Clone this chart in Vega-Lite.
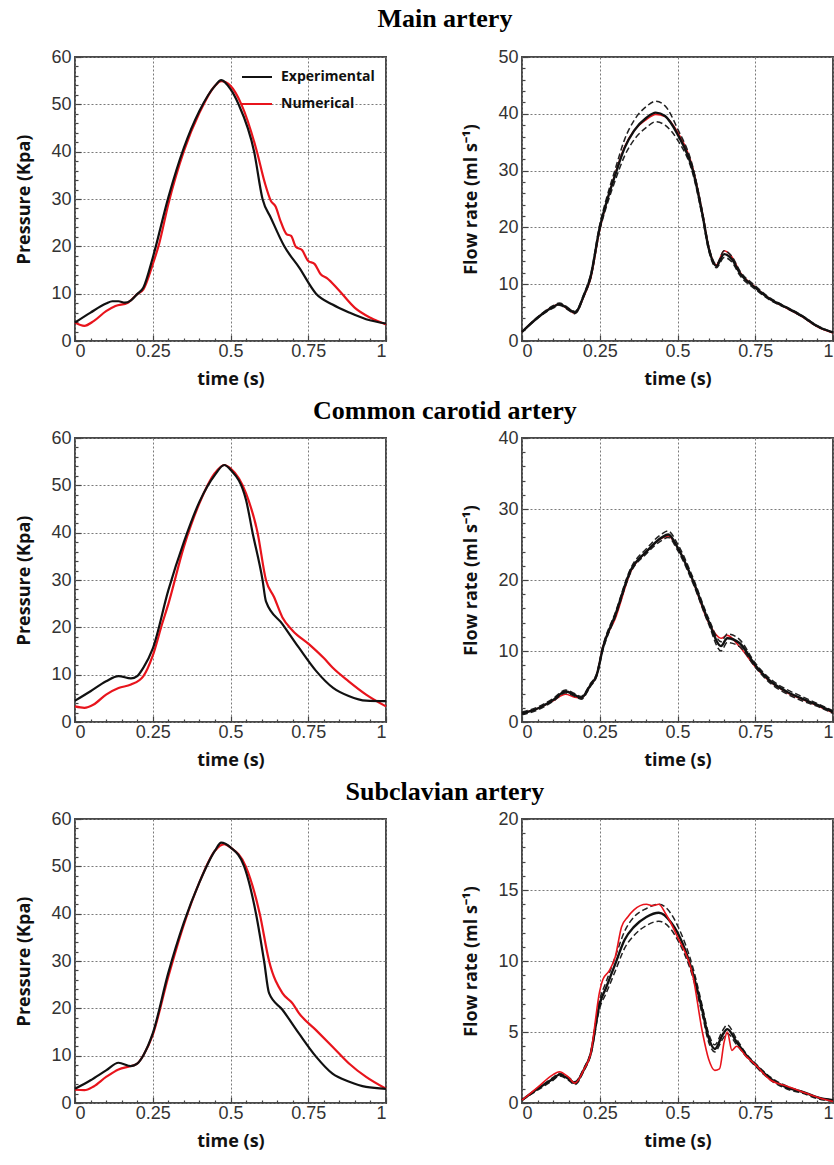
{
"$schema": "https://vega.github.io/schema/vega-lite/v6.json",
"padding": {"left": 14, "top": 6, "right": 0, "bottom": 0},
"spacing": 9,
"config": {
  "view": {"stroke": "#4a4a4a", "strokeWidth": 2},
  "axis": {"labelFont": "Liberation Sans", "labelFontSize": 18, "labelColor": "#333", "titleFont": "Open Sans", "titleFontWeight": "bold", "titleFontSize": 18, "titleColor": "#111", "gridDash": [2, 2], "gridColor": "#7a7a7a", "gridWidth": 1, "domain": false, "tickColor": "#444", "tickWidth": 1.2, "labelOverlap": false},
  "axisX": {"labelPadding": 7, "titlePadding": 7},
  "axisY": {"labelPadding": 10, "titlePadding": 17},
  "title": {"font": "Liberation Serif", "fontSize": 26, "fontWeight": "bold", "color": "#000", "anchor": "middle", "offset": 15, "dx": 18},
  "line": {"strokeWidth": 2, "interpolate": "monotone"}
},
"datasets": {
"mp": [
{"s":"Numerical","t":0,"v":3.9},{"s":"Numerical","t":0.03,"v":3.2},{"s":"Numerical","t":0.06,"v":4.2},{"s":"Numerical","t":0.1,"v":6.3},{"s":"Numerical","t":0.13,"v":7.4},{"s":"Numerical","t":0.17,"v":8.1},{"s":"Numerical","t":0.2,"v":9.9},{"s":"Numerical","t":0.22,"v":10.9},{"s":"Numerical","t":0.25,"v":16.2},{"s":"Numerical","t":0.27,"v":20.4},{"s":"Numerical","t":0.3,"v":28.9},{"s":"Numerical","t":0.35,"v":40.1},{"s":"Numerical","t":0.4,"v":48.2},{"s":"Numerical","t":0.45,"v":53.9},{"s":"Numerical","t":0.47,"v":54.9},{"s":"Numerical","t":0.5,"v":53.9},{"s":"Numerical","t":0.535,"v":50},{"s":"Numerical","t":0.585,"v":40},{"s":"Numerical","t":0.61,"v":33.5},{"s":"Numerical","t":0.63,"v":29.6},{"s":"Numerical","t":0.645,"v":28.4},{"s":"Numerical","t":0.66,"v":25.5},{"s":"Numerical","t":0.68,"v":22.6},{"s":"Numerical","t":0.695,"v":22.2},{"s":"Numerical","t":0.71,"v":19.9},{"s":"Numerical","t":0.73,"v":19.2},{"s":"Numerical","t":0.75,"v":16.9},{"s":"Numerical","t":0.77,"v":16.3},{"s":"Numerical","t":0.79,"v":14.1},{"s":"Numerical","t":0.81,"v":13.3},{"s":"Numerical","t":0.85,"v":10.6},{"s":"Numerical","t":0.9,"v":7.0},{"s":"Numerical","t":0.95,"v":4.9},{"s":"Numerical","t":1,"v":3.5},
{"s":"Experimental","t":0,"v":3.9},{"s":"Experimental","t":0.05,"v":6.0},{"s":"Experimental","t":0.1,"v":7.9},{"s":"Experimental","t":0.12,"v":8.4},{"s":"Experimental","t":0.14,"v":8.4},{"s":"Experimental","t":0.16,"v":8.1},{"s":"Experimental","t":0.18,"v":8.6},{"s":"Experimental","t":0.2,"v":9.9},{"s":"Experimental","t":0.22,"v":11.3},{"s":"Experimental","t":0.25,"v":17.6},{"s":"Experimental","t":0.3,"v":30.3},{"s":"Experimental","t":0.35,"v":40.8},{"s":"Experimental","t":0.4,"v":48.6},{"s":"Experimental","t":0.45,"v":53.9},{"s":"Experimental","t":0.47,"v":55.1},{"s":"Experimental","t":0.5,"v":53.2},{"s":"Experimental","t":0.526,"v":50},{"s":"Experimental","t":0.576,"v":40},{"s":"Experimental","t":0.603,"v":30},{"s":"Experimental","t":0.63,"v":26},{"s":"Experimental","t":0.673,"v":20},{"s":"Experimental","t":0.721,"v":15.5},{"s":"Experimental","t":0.775,"v":10},{"s":"Experimental","t":0.828,"v":7.7},{"s":"Experimental","t":0.882,"v":6.0},{"s":"Experimental","t":0.936,"v":4.6},{"s":"Experimental","t":1,"v":3.7}
],
"cp": [
{"s":"Numerical","t":0,"v":3.3},{"s":"Numerical","t":0.03,"v":3.0},{"s":"Numerical","t":0.06,"v":3.7},{"s":"Numerical","t":0.1,"v":5.8},{"s":"Numerical","t":0.14,"v":7.2},{"s":"Numerical","t":0.18,"v":7.9},{"s":"Numerical","t":0.22,"v":9.7},{"s":"Numerical","t":0.25,"v":14.0},{"s":"Numerical","t":0.28,"v":20.7},{"s":"Numerical","t":0.3,"v":24.9},{"s":"Numerical","t":0.35,"v":37},{"s":"Numerical","t":0.4,"v":46.2},{"s":"Numerical","t":0.45,"v":52.6},{"s":"Numerical","t":0.48,"v":54.3},{"s":"Numerical","t":0.5,"v":53.6},{"s":"Numerical","t":0.55,"v":48.3},{"s":"Numerical","t":0.587,"v":40},{"s":"Numerical","t":0.614,"v":30},{"s":"Numerical","t":0.64,"v":26.4},{"s":"Numerical","t":0.667,"v":22.1},{"s":"Numerical","t":0.7,"v":19.3},{"s":"Numerical","t":0.753,"v":16.4},{"s":"Numerical","t":0.8,"v":13.5},{"s":"Numerical","t":0.828,"v":11.5},{"s":"Numerical","t":0.88,"v":8.6},{"s":"Numerical","t":0.936,"v":5.8},{"s":"Numerical","t":1,"v":3.3},
{"s":"Experimental","t":0,"v":4.5},{"s":"Experimental","t":0.05,"v":6.5},{"s":"Experimental","t":0.1,"v":8.6},{"s":"Experimental","t":0.14,"v":9.7},{"s":"Experimental","t":0.18,"v":9.2},{"s":"Experimental","t":0.2,"v":9.7},{"s":"Experimental","t":0.22,"v":11.5},{"s":"Experimental","t":0.25,"v":15.5},{"s":"Experimental","t":0.3,"v":27.8},{"s":"Experimental","t":0.35,"v":38},{"s":"Experimental","t":0.4,"v":46.5},{"s":"Experimental","t":0.45,"v":52.2},{"s":"Experimental","t":0.48,"v":54.3},{"s":"Experimental","t":0.5,"v":53.3},{"s":"Experimental","t":0.55,"v":46.9},{"s":"Experimental","t":0.571,"v":40},{"s":"Experimental","t":0.603,"v":30},{"s":"Experimental","t":0.614,"v":25.5},{"s":"Experimental","t":0.667,"v":20.7},{"s":"Experimental","t":0.72,"v":15.7},{"s":"Experimental","t":0.775,"v":10.8},{"s":"Experimental","t":0.83,"v":7.2},{"s":"Experimental","t":0.88,"v":5.5},{"s":"Experimental","t":0.936,"v":4.5},{"s":"Experimental","t":1,"v":4.4}
],
"sp": [
{"s":"Numerical","t":0,"v":2.8},{"s":"Numerical","t":0.03,"v":2.7},{"s":"Numerical","t":0.06,"v":3.5},{"s":"Numerical","t":0.1,"v":5.5},{"s":"Numerical","t":0.14,"v":7.1},{"s":"Numerical","t":0.18,"v":7.8},{"s":"Numerical","t":0.2,"v":8.3},{"s":"Numerical","t":0.22,"v":10.1},{"s":"Numerical","t":0.25,"v":14.4},{"s":"Numerical","t":0.3,"v":26.7},{"s":"Numerical","t":0.35,"v":37.7},{"s":"Numerical","t":0.4,"v":46.6},{"s":"Numerical","t":0.45,"v":53.3},{"s":"Numerical","t":0.48,"v":54.7},{"s":"Numerical","t":0.5,"v":54},{"s":"Numerical","t":0.549,"v":50},{"s":"Numerical","t":0.594,"v":40},{"s":"Numerical","t":0.624,"v":30},{"s":"Numerical","t":0.667,"v":23.2},{"s":"Numerical","t":0.7,"v":21},{"s":"Numerical","t":0.72,"v":19.0},{"s":"Numerical","t":0.775,"v":15.4},{"s":"Numerical","t":0.828,"v":11.9},{"s":"Numerical","t":0.882,"v":8.3},{"s":"Numerical","t":0.936,"v":5.5},{"s":"Numerical","t":1,"v":3.0},
{"s":"Experimental","t":0,"v":3.0},{"s":"Experimental","t":0.05,"v":4.8},{"s":"Experimental","t":0.1,"v":6.9},{"s":"Experimental","t":0.14,"v":8.5},{"s":"Experimental","t":0.18,"v":7.8},{"s":"Experimental","t":0.2,"v":8.3},{"s":"Experimental","t":0.22,"v":10.1},{"s":"Experimental","t":0.25,"v":14.7},{"s":"Experimental","t":0.3,"v":27.5},{"s":"Experimental","t":0.35,"v":38.1},{"s":"Experimental","t":0.4,"v":46.6},{"s":"Experimental","t":0.45,"v":53.3},{"s":"Experimental","t":0.47,"v":55},{"s":"Experimental","t":0.5,"v":54},{"s":"Experimental","t":0.544,"v":50},{"s":"Experimental","t":0.582,"v":40},{"s":"Experimental","t":0.608,"v":30},{"s":"Experimental","t":0.624,"v":23.2},{"s":"Experimental","t":0.667,"v":19.7},{"s":"Experimental","t":0.72,"v":14.7},{"s":"Experimental","t":0.775,"v":9.8},{"s":"Experimental","t":0.828,"v":6.2},{"s":"Experimental","t":0.882,"v":4.5},{"s":"Experimental","t":0.936,"v":3.4},{"s":"Experimental","t":1,"v":3.0}
],
"mf": [
{"s":"Mean","t":0,"v":1.6},{"s":"Mean","t":0.05,"v":4.1},{"s":"Mean","t":0.1,"v":6.0},{"s":"Mean","t":0.12,"v":6.5},{"s":"Mean","t":0.15,"v":5.6},{"s":"Mean","t":0.17,"v":5.0},{"s":"Mean","t":0.2,"v":8.2},{"s":"Mean","t":0.22,"v":11.2},{"s":"Mean","t":0.25,"v":20},{"s":"Mean","t":0.27,"v":24.1},{"s":"Mean","t":0.3,"v":29.3},{"s":"Mean","t":0.33,"v":34},{"s":"Mean","t":0.36,"v":37},{"s":"Mean","t":0.4,"v":39.3},{"s":"Mean","t":0.43,"v":40.2},{"s":"Mean","t":0.46,"v":39.6},{"s":"Mean","t":0.5,"v":36.4},{"s":"Mean","t":0.55,"v":29.9},{"s":"Mean","t":0.58,"v":22.3},{"s":"Mean","t":0.6,"v":16.4},{"s":"Mean","t":0.625,"v":13.2},{"s":"Mean","t":0.65,"v":15.3},{"s":"Mean","t":0.675,"v":14.4},{"s":"Mean","t":0.7,"v":12},{"s":"Mean","t":0.75,"v":9.4},{"s":"Mean","t":0.8,"v":7.3},{"s":"Mean","t":0.85,"v":5.9},{"s":"Mean","t":0.9,"v":4.4},{"s":"Mean","t":0.95,"v":2.6},{"s":"Mean","t":1,"v":1.5},
{"s":"Upper","t":0,"v":1.6},{"s":"Upper","t":0.05,"v":4.2},{"s":"Upper","t":0.1,"v":6.2},{"s":"Upper","t":0.12,"v":6.7},{"s":"Upper","t":0.15,"v":5.8},{"s":"Upper","t":0.17,"v":5.2},{"s":"Upper","t":0.2,"v":8.4},{"s":"Upper","t":0.22,"v":11.5},{"s":"Upper","t":0.25,"v":20.5},{"s":"Upper","t":0.27,"v":24.8},{"s":"Upper","t":0.3,"v":30.3},{"s":"Upper","t":0.33,"v":35.5},{"s":"Upper","t":0.36,"v":38.8},{"s":"Upper","t":0.4,"v":41.3},{"s":"Upper","t":0.43,"v":42.2},{"s":"Upper","t":0.46,"v":41.4},{"s":"Upper","t":0.5,"v":37.4},{"s":"Upper","t":0.55,"v":30.5},{"s":"Upper","t":0.58,"v":22.8},{"s":"Upper","t":0.6,"v":16.8},{"s":"Upper","t":0.625,"v":13.5},{"s":"Upper","t":0.65,"v":15.9},{"s":"Upper","t":0.675,"v":14.9},{"s":"Upper","t":0.7,"v":12.4},{"s":"Upper","t":0.75,"v":9.7},{"s":"Upper","t":0.8,"v":7.5},{"s":"Upper","t":0.85,"v":6.0},{"s":"Upper","t":0.9,"v":4.5},{"s":"Upper","t":0.95,"v":2.7},{"s":"Upper","t":1,"v":1.5},
{"s":"Lower","t":0,"v":1.6},{"s":"Lower","t":0.05,"v":4.0},{"s":"Lower","t":0.1,"v":5.8},{"s":"Lower","t":0.12,"v":6.3},{"s":"Lower","t":0.15,"v":5.4},{"s":"Lower","t":0.17,"v":4.8},{"s":"Lower","t":0.2,"v":8.0},{"s":"Lower","t":0.22,"v":10.9},{"s":"Lower","t":0.25,"v":19.5},{"s":"Lower","t":0.27,"v":23.4},{"s":"Lower","t":0.3,"v":28.3},{"s":"Lower","t":0.33,"v":32.6},{"s":"Lower","t":0.36,"v":35.4},{"s":"Lower","t":0.4,"v":37.6},{"s":"Lower","t":0.43,"v":38.6},{"s":"Lower","t":0.46,"v":38.0},{"s":"Lower","t":0.5,"v":35.4},{"s":"Lower","t":0.55,"v":29.3},{"s":"Lower","t":0.58,"v":21.8},{"s":"Lower","t":0.6,"v":16.0},{"s":"Lower","t":0.625,"v":12.9},{"s":"Lower","t":0.65,"v":14.7},{"s":"Lower","t":0.675,"v":13.9},{"s":"Lower","t":0.7,"v":11.6},{"s":"Lower","t":0.75,"v":9.1},{"s":"Lower","t":0.8,"v":7.1},{"s":"Lower","t":0.85,"v":5.8},{"s":"Lower","t":0.9,"v":4.3},{"s":"Lower","t":0.95,"v":2.5},{"s":"Lower","t":1,"v":1.5},
{"s":"Numerical","t":0,"v":1.6},{"s":"Numerical","t":0.05,"v":4.1},{"s":"Numerical","t":0.1,"v":6.1},{"s":"Numerical","t":0.12,"v":6.5},{"s":"Numerical","t":0.15,"v":5.5},{"s":"Numerical","t":0.17,"v":4.9},{"s":"Numerical","t":0.2,"v":8.0},{"s":"Numerical","t":0.22,"v":10.8},{"s":"Numerical","t":0.25,"v":19.6},{"s":"Numerical","t":0.27,"v":24.0},{"s":"Numerical","t":0.3,"v":29.5},{"s":"Numerical","t":0.33,"v":34.2},{"s":"Numerical","t":0.36,"v":37.0},{"s":"Numerical","t":0.4,"v":39.0},{"s":"Numerical","t":0.43,"v":39.9},{"s":"Numerical","t":0.46,"v":39.5},{"s":"Numerical","t":0.5,"v":36.8},{"s":"Numerical","t":0.55,"v":30.3},{"s":"Numerical","t":0.58,"v":22.6},{"s":"Numerical","t":0.6,"v":16.6},{"s":"Numerical","t":0.625,"v":13.4},{"s":"Numerical","t":0.65,"v":15.9},{"s":"Numerical","t":0.675,"v":14.8},{"s":"Numerical","t":0.7,"v":12.2},{"s":"Numerical","t":0.75,"v":9.5},{"s":"Numerical","t":0.8,"v":7.3},{"s":"Numerical","t":0.85,"v":5.8},{"s":"Numerical","t":0.9,"v":4.3},{"s":"Numerical","t":0.95,"v":2.5},{"s":"Numerical","t":1,"v":1.4}
],
"cf": [
{"s":"Mean","t":0,"v":1.2},{"s":"Mean","t":0.05,"v":1.9},{"s":"Mean","t":0.1,"v":3.1},{"s":"Mean","t":0.14,"v":4.3},{"s":"Mean","t":0.17,"v":3.8},{"s":"Mean","t":0.19,"v":3.4},{"s":"Mean","t":0.22,"v":5.2},{"s":"Mean","t":0.24,"v":6.6},{"s":"Mean","t":0.26,"v":10.4},{"s":"Mean","t":0.3,"v":15.1},{"s":"Mean","t":0.35,"v":21.4},{"s":"Mean","t":0.4,"v":24.0},{"s":"Mean","t":0.45,"v":26.0},{"s":"Mean","t":0.47,"v":26.4},{"s":"Mean","t":0.5,"v":24.6},{"s":"Mean","t":0.55,"v":19.9},{"s":"Mean","t":0.6,"v":14.2},{"s":"Mean","t":0.64,"v":10.7},{"s":"Mean","t":0.66,"v":11.8},{"s":"Mean","t":0.7,"v":11.1},{"s":"Mean","t":0.75,"v":8.0},{"s":"Mean","t":0.8,"v":5.7},{"s":"Mean","t":0.85,"v":4.3},{"s":"Mean","t":0.9,"v":3.3},{"s":"Mean","t":0.95,"v":2.4},{"s":"Mean","t":1,"v":1.4},
{"s":"Upper","t":0,"v":1.4},{"s":"Upper","t":0.05,"v":2.1},{"s":"Upper","t":0.1,"v":3.3},{"s":"Upper","t":0.14,"v":4.5},{"s":"Upper","t":0.17,"v":4.0},{"s":"Upper","t":0.19,"v":3.6},{"s":"Upper","t":0.22,"v":5.4},{"s":"Upper","t":0.24,"v":6.8},{"s":"Upper","t":0.26,"v":10.7},{"s":"Upper","t":0.3,"v":15.4},{"s":"Upper","t":0.35,"v":21.7},{"s":"Upper","t":0.4,"v":24.4},{"s":"Upper","t":0.45,"v":26.5},{"s":"Upper","t":0.47,"v":26.9},{"s":"Upper","t":0.5,"v":25.1},{"s":"Upper","t":0.55,"v":20.3},{"s":"Upper","t":0.6,"v":14.6},{"s":"Upper","t":0.64,"v":11.3},{"s":"Upper","t":0.66,"v":12.4},{"s":"Upper","t":0.7,"v":11.6},{"s":"Upper","t":0.75,"v":8.3},{"s":"Upper","t":0.8,"v":6.0},{"s":"Upper","t":0.85,"v":4.6},{"s":"Upper","t":0.9,"v":3.6},{"s":"Upper","t":0.95,"v":2.6},{"s":"Upper","t":1,"v":1.6},
{"s":"Lower","t":0,"v":1.0},{"s":"Lower","t":0.05,"v":1.7},{"s":"Lower","t":0.1,"v":2.9},{"s":"Lower","t":0.14,"v":4.1},{"s":"Lower","t":0.17,"v":3.6},{"s":"Lower","t":0.19,"v":3.2},{"s":"Lower","t":0.22,"v":5.0},{"s":"Lower","t":0.24,"v":6.4},{"s":"Lower","t":0.26,"v":10.1},{"s":"Lower","t":0.3,"v":14.8},{"s":"Lower","t":0.35,"v":21.1},{"s":"Lower","t":0.4,"v":23.7},{"s":"Lower","t":0.45,"v":25.6},{"s":"Lower","t":0.47,"v":26.0},{"s":"Lower","t":0.5,"v":24.2},{"s":"Lower","t":0.55,"v":19.5},{"s":"Lower","t":0.6,"v":13.8},{"s":"Lower","t":0.64,"v":10.0},{"s":"Lower","t":0.66,"v":11.2},{"s":"Lower","t":0.7,"v":10.6},{"s":"Lower","t":0.75,"v":7.7},{"s":"Lower","t":0.8,"v":5.4},{"s":"Lower","t":0.85,"v":4.0},{"s":"Lower","t":0.9,"v":3.0},{"s":"Lower","t":0.95,"v":2.2},{"s":"Lower","t":1,"v":1.2},
{"s":"Numerical","t":0,"v":1.2},{"s":"Numerical","t":0.05,"v":1.9},{"s":"Numerical","t":0.1,"v":3.0},{"s":"Numerical","t":0.14,"v":3.9},{"s":"Numerical","t":0.17,"v":3.5},{"s":"Numerical","t":0.19,"v":3.4},{"s":"Numerical","t":0.22,"v":5.2},{"s":"Numerical","t":0.24,"v":6.6},{"s":"Numerical","t":0.26,"v":10.6},{"s":"Numerical","t":0.3,"v":14.6},{"s":"Numerical","t":0.35,"v":21.2},{"s":"Numerical","t":0.4,"v":24.0},{"s":"Numerical","t":0.45,"v":25.9},{"s":"Numerical","t":0.47,"v":26.2},{"s":"Numerical","t":0.5,"v":24.6},{"s":"Numerical","t":0.55,"v":19.8},{"s":"Numerical","t":0.6,"v":14.0},{"s":"Numerical","t":0.64,"v":11.8},{"s":"Numerical","t":0.66,"v":12.2},{"s":"Numerical","t":0.7,"v":10.6},{"s":"Numerical","t":0.75,"v":7.8},{"s":"Numerical","t":0.8,"v":5.6},{"s":"Numerical","t":0.85,"v":4.2},{"s":"Numerical","t":0.9,"v":3.2},{"s":"Numerical","t":0.95,"v":2.3},{"s":"Numerical","t":1,"v":1.3}
],
"sf": [
{"s":"Mean","t":0,"v":0.2},{"s":"Mean","t":0.05,"v":1.0},{"s":"Mean","t":0.1,"v":1.7},{"s":"Mean","t":0.12,"v":2.0},{"s":"Mean","t":0.15,"v":1.7},{"s":"Mean","t":0.17,"v":1.4},{"s":"Mean","t":0.2,"v":2.4},{"s":"Mean","t":0.22,"v":3.4},{"s":"Mean","t":0.25,"v":7.0},{"s":"Mean","t":0.27,"v":8.1},{"s":"Mean","t":0.3,"v":9.8},{"s":"Mean","t":0.33,"v":11.5},{"s":"Mean","t":0.36,"v":12.4},{"s":"Mean","t":0.4,"v":13.1},{"s":"Mean","t":0.44,"v":13.4},{"s":"Mean","t":0.48,"v":12.7},{"s":"Mean","t":0.5,"v":12.0},{"s":"Mean","t":0.55,"v":9.1},{"s":"Mean","t":0.58,"v":6.5},{"s":"Mean","t":0.6,"v":4.6},{"s":"Mean","t":0.62,"v":3.8},{"s":"Mean","t":0.645,"v":4.8},{"s":"Mean","t":0.66,"v":5.2},{"s":"Mean","t":0.69,"v":4.3},{"s":"Mean","t":0.72,"v":3.4},{"s":"Mean","t":0.75,"v":2.7},{"s":"Mean","t":0.8,"v":1.7},{"s":"Mean","t":0.85,"v":1.1},{"s":"Mean","t":0.9,"v":0.8},{"s":"Mean","t":0.95,"v":0.4},{"s":"Mean","t":1,"v":0.2},
{"s":"Upper","t":0,"v":0.2},{"s":"Upper","t":0.05,"v":1.0},{"s":"Upper","t":0.1,"v":1.8},{"s":"Upper","t":0.12,"v":2.1},{"s":"Upper","t":0.15,"v":1.8},{"s":"Upper","t":0.17,"v":1.5},{"s":"Upper","t":0.2,"v":2.5},{"s":"Upper","t":0.22,"v":3.5},{"s":"Upper","t":0.25,"v":7.3},{"s":"Upper","t":0.27,"v":8.5},{"s":"Upper","t":0.3,"v":10.3},{"s":"Upper","t":0.33,"v":12.1},{"s":"Upper","t":0.36,"v":13.1},{"s":"Upper","t":0.4,"v":13.7},{"s":"Upper","t":0.44,"v":14.0},{"s":"Upper","t":0.48,"v":13.3},{"s":"Upper","t":0.5,"v":12.5},{"s":"Upper","t":0.55,"v":9.5},{"s":"Upper","t":0.58,"v":6.8},{"s":"Upper","t":0.6,"v":4.9},{"s":"Upper","t":0.62,"v":4.1},{"s":"Upper","t":0.645,"v":5.1},{"s":"Upper","t":0.66,"v":5.5},{"s":"Upper","t":0.69,"v":4.5},{"s":"Upper","t":0.72,"v":3.5},{"s":"Upper","t":0.75,"v":2.8},{"s":"Upper","t":0.8,"v":1.8},{"s":"Upper","t":0.85,"v":1.2},{"s":"Upper","t":0.9,"v":0.8},{"s":"Upper","t":0.95,"v":0.4},{"s":"Upper","t":1,"v":0.2},
{"s":"Lower","t":0,"v":0.2},{"s":"Lower","t":0.05,"v":0.9},{"s":"Lower","t":0.1,"v":1.6},{"s":"Lower","t":0.12,"v":1.9},{"s":"Lower","t":0.15,"v":1.6},{"s":"Lower","t":0.17,"v":1.3},{"s":"Lower","t":0.2,"v":2.3},{"s":"Lower","t":0.22,"v":3.3},{"s":"Lower","t":0.25,"v":6.7},{"s":"Lower","t":0.27,"v":7.7},{"s":"Lower","t":0.3,"v":9.3},{"s":"Lower","t":0.33,"v":10.9},{"s":"Lower","t":0.36,"v":11.8},{"s":"Lower","t":0.4,"v":12.5},{"s":"Lower","t":0.44,"v":12.8},{"s":"Lower","t":0.48,"v":12.2},{"s":"Lower","t":0.5,"v":11.5},{"s":"Lower","t":0.55,"v":8.8},{"s":"Lower","t":0.58,"v":6.2},{"s":"Lower","t":0.6,"v":4.3},{"s":"Lower","t":0.62,"v":3.6},{"s":"Lower","t":0.645,"v":4.5},{"s":"Lower","t":0.66,"v":4.9},{"s":"Lower","t":0.69,"v":4.1},{"s":"Lower","t":0.72,"v":3.3},{"s":"Lower","t":0.75,"v":2.6},{"s":"Lower","t":0.8,"v":1.6},{"s":"Lower","t":0.85,"v":1.0},{"s":"Lower","t":0.9,"v":0.7},{"s":"Lower","t":0.95,"v":0.3},{"s":"Lower","t":1,"v":0.1},
{"s":"Numerical","t":0,"v":0.2},{"s":"Numerical","t":0.05,"v":1.1},{"s":"Numerical","t":0.1,"v":2.0},{"s":"Numerical","t":0.12,"v":2.2},{"s":"Numerical","t":0.15,"v":1.8},{"s":"Numerical","t":0.17,"v":1.4},{"s":"Numerical","t":0.2,"v":2.4},{"s":"Numerical","t":0.22,"v":3.4},{"s":"Numerical","t":0.25,"v":7.9},{"s":"Numerical","t":0.26,"v":8.7},{"s":"Numerical","t":0.28,"v":9.3},{"s":"Numerical","t":0.3,"v":10.3},{"s":"Numerical","t":0.32,"v":12.4},{"s":"Numerical","t":0.34,"v":13.1},{"s":"Numerical","t":0.36,"v":13.6},{"s":"Numerical","t":0.4,"v":14.0},{"s":"Numerical","t":0.42,"v":13.9},{"s":"Numerical","t":0.44,"v":14.0},{"s":"Numerical","t":0.46,"v":13.4},{"s":"Numerical","t":0.5,"v":11.7},{"s":"Numerical","t":0.55,"v":8.9},{"s":"Numerical","t":0.58,"v":5.0},{"s":"Numerical","t":0.6,"v":3.1},{"s":"Numerical","t":0.62,"v":2.3},{"s":"Numerical","t":0.635,"v":2.4},{"s":"Numerical","t":0.65,"v":4.3},{"s":"Numerical","t":0.66,"v":5.0},{"s":"Numerical","t":0.675,"v":3.7},{"s":"Numerical","t":0.69,"v":4.0},{"s":"Numerical","t":0.72,"v":3.3},{"s":"Numerical","t":0.75,"v":2.7},{"s":"Numerical","t":0.8,"v":1.6},{"s":"Numerical","t":0.85,"v":1.2},{"s":"Numerical","t":0.9,"v":0.8},{"s":"Numerical","t":0.95,"v":0.4},{"s":"Numerical","t":1,"v":0.1}
]
},
"vconcat": [
{"title": {"text": "Main artery", "offset": 15}, "bounds": "flush", "spacing": 136, "hconcat": [
  {"width": 311, "height": 284, "data": {"name": "mp"},
   "mark": {"type": "line", "strokeWidth": 2.2},
   "encoding": {
     "x": {"field": "t", "type": "quantitative", "scale": {"domain": [0, 1], "nice": false}, "axis": {"values": [0,0.05,0.1,0.15,0.2,0.25,0.3,0.35,0.4,0.45,0.5,0.55,0.6,0.65,0.7,0.75,0.8,0.85,0.9,0.95,1], "labelExpr": "indexof([0,0.25,0.5,0.75,1], datum.value) >= 0 ? format(datum.value, '~g') : ''", "tickSize": {"condition": {"test": "indexof([0,0.25,0.5,0.75,1], datum.value) >= 0", "value": -6}, "value": -3}, "gridOpacity": {"condition": {"test": "indexof([0,0.25,0.5,0.75,1], datum.value) >= 0", "value": 1}, "value": 0}, "title": "time (s)"}},
     "y": {"field": "v", "type": "quantitative", "scale": {"domain": [0, 60], "nice": false}, "axis": {"values": [0,2,4,6,8,10,12,14,16,18,20,22,24,26,28,30,32,34,36,38,40,42,44,46,48,50,52,54,56,58,60], "labelExpr": "datum.value % 10 === 0 ? datum.label : ''", "tickSize": {"condition": {"test": "datum.value % 10 === 0", "value": -6}, "value": -3}, "gridOpacity": {"condition": {"test": "datum.value % 10 === 0", "value": 1}, "value": 0}, "title": "Pressure (Kpa)"}},
     "color": {"field": "s", "type": "nominal", "scale": {"domain": ["Experimental", "Numerical"], "range": ["#111111", "#e8141c"]},
       "legend": {"orient": "none", "legendX": 166, "legendY": 4, "title": null, "symbolType": "stroke", "symbolSize": 900, "symbolStrokeWidth": 3, "labelFont": "Open Sans", "labelFontWeight": "bold", "labelFontSize": 14, "labelColor": "#111", "rowPadding": 4, "labelOffset": 8}}
   }},
  {"width": 311, "height": 284, "data": {"name": "mf"},
   "encoding": {
     "x": {"field": "t", "type": "quantitative", "scale": {"domain": [0, 1], "nice": false}, "axis": {"values": [0,0.05,0.1,0.15,0.2,0.25,0.3,0.35,0.4,0.45,0.5,0.55,0.6,0.65,0.7,0.75,0.8,0.85,0.9,0.95,1], "labelExpr": "indexof([0,0.25,0.5,0.75,1], datum.value) >= 0 ? format(datum.value, '~g') : ''", "tickSize": {"condition": {"test": "indexof([0,0.25,0.5,0.75,1], datum.value) >= 0", "value": -6}, "value": -3}, "gridOpacity": {"condition": {"test": "indexof([0,0.25,0.5,0.75,1], datum.value) >= 0", "value": 1}, "value": 0}, "title": "time (s)"}},
     "y": {"field": "v", "type": "quantitative", "scale": {"domain": [0, 50], "nice": false}, "axis": {"values": [0,2,4,6,8,10,12,14,16,18,20,22,24,26,28,30,32,34,36,38,40,42,44,46,48,50], "labelExpr": "datum.value % 10 === 0 ? datum.label : ''", "tickSize": {"condition": {"test": "datum.value % 10 === 0", "value": -6}, "value": -3}, "gridOpacity": {"condition": {"test": "datum.value % 10 === 0", "value": 1}, "value": 0}, "title": "Flow rate (ml s⁻¹)"}}
   },
   "layer": [
     {"transform": [{"filter": "datum.s === 'Numerical'"}], "mark": {"type": "line", "color": "#e8141c", "strokeWidth": 1.6}},
     {"transform": [{"filter": "datum.s === 'Upper' || datum.s === 'Lower'"}], "mark": {"type": "line", "color": "#222", "strokeWidth": 1.5, "strokeDash": [6, 3]}, "encoding": {"detail": {"field": "s"}}},
     {"transform": [{"filter": "datum.s === 'Mean'"}], "mark": {"type": "line", "color": "#111", "strokeWidth": 2.4}}
   ]}
]},
{"title": {"text": "Common carotid artery", "offset": 4}, "bounds": "flush", "spacing": 136, "hconcat": [
  {"width": 311, "height": 284, "data": {"name": "cp"},
   "mark": {"type": "line", "strokeWidth": 2.2},
   "encoding": {
     "x": {"field": "t", "type": "quantitative", "scale": {"domain": [0, 1], "nice": false}, "axis": {"values": [0,0.05,0.1,0.15,0.2,0.25,0.3,0.35,0.4,0.45,0.5,0.55,0.6,0.65,0.7,0.75,0.8,0.85,0.9,0.95,1], "labelExpr": "indexof([0,0.25,0.5,0.75,1], datum.value) >= 0 ? format(datum.value, '~g') : ''", "tickSize": {"condition": {"test": "indexof([0,0.25,0.5,0.75,1], datum.value) >= 0", "value": -6}, "value": -3}, "gridOpacity": {"condition": {"test": "indexof([0,0.25,0.5,0.75,1], datum.value) >= 0", "value": 1}, "value": 0}, "title": "time (s)"}},
     "y": {"field": "v", "type": "quantitative", "scale": {"domain": [0, 60], "nice": false}, "axis": {"values": [0,2,4,6,8,10,12,14,16,18,20,22,24,26,28,30,32,34,36,38,40,42,44,46,48,50,52,54,56,58,60], "labelExpr": "datum.value % 10 === 0 ? datum.label : ''", "tickSize": {"condition": {"test": "datum.value % 10 === 0", "value": -6}, "value": -3}, "gridOpacity": {"condition": {"test": "datum.value % 10 === 0", "value": 1}, "value": 0}, "title": "Pressure (Kpa)"}},
     "color": {"field": "s", "type": "nominal", "scale": {"domain": ["Experimental", "Numerical"], "range": ["#111111", "#e8141c"]}, "legend": null}
   }},
  {"width": 311, "height": 284, "data": {"name": "cf"},
   "encoding": {
     "x": {"field": "t", "type": "quantitative", "scale": {"domain": [0, 1], "nice": false}, "axis": {"values": [0,0.05,0.1,0.15,0.2,0.25,0.3,0.35,0.4,0.45,0.5,0.55,0.6,0.65,0.7,0.75,0.8,0.85,0.9,0.95,1], "labelExpr": "indexof([0,0.25,0.5,0.75,1], datum.value) >= 0 ? format(datum.value, '~g') : ''", "tickSize": {"condition": {"test": "indexof([0,0.25,0.5,0.75,1], datum.value) >= 0", "value": -6}, "value": -3}, "gridOpacity": {"condition": {"test": "indexof([0,0.25,0.5,0.75,1], datum.value) >= 0", "value": 1}, "value": 0}, "title": "time (s)"}},
     "y": {"field": "v", "type": "quantitative", "scale": {"domain": [0, 40], "nice": false}, "axis": {"values": [0,2,4,6,8,10,12,14,16,18,20,22,24,26,28,30,32,34,36,38,40], "labelExpr": "datum.value % 10 === 0 ? datum.label : ''", "tickSize": {"condition": {"test": "datum.value % 10 === 0", "value": -6}, "value": -3}, "gridOpacity": {"condition": {"test": "datum.value % 10 === 0", "value": 1}, "value": 0}, "title": "Flow rate (ml s⁻¹)"}}
   },
   "layer": [
     {"transform": [{"filter": "datum.s === 'Numerical'"}], "mark": {"type": "line", "color": "#e8141c", "strokeWidth": 1.6}},
     {"transform": [{"filter": "datum.s === 'Upper' || datum.s === 'Lower'"}], "mark": {"type": "line", "color": "#222", "strokeWidth": 1.5, "strokeDash": [6, 3]}, "encoding": {"detail": {"field": "s"}}},
     {"transform": [{"filter": "datum.s === 'Mean'"}], "mark": {"type": "line", "color": "#111", "strokeWidth": 2.4}}
   ]}
]},
{"title": {"text": "Subclavian artery", "offset": 4}, "bounds": "flush", "spacing": 136, "hconcat": [
  {"width": 311, "height": 284, "data": {"name": "sp"},
   "mark": {"type": "line", "strokeWidth": 2.2},
   "encoding": {
     "x": {"field": "t", "type": "quantitative", "scale": {"domain": [0, 1], "nice": false}, "axis": {"values": [0,0.05,0.1,0.15,0.2,0.25,0.3,0.35,0.4,0.45,0.5,0.55,0.6,0.65,0.7,0.75,0.8,0.85,0.9,0.95,1], "labelExpr": "indexof([0,0.25,0.5,0.75,1], datum.value) >= 0 ? format(datum.value, '~g') : ''", "tickSize": {"condition": {"test": "indexof([0,0.25,0.5,0.75,1], datum.value) >= 0", "value": -6}, "value": -3}, "gridOpacity": {"condition": {"test": "indexof([0,0.25,0.5,0.75,1], datum.value) >= 0", "value": 1}, "value": 0}, "title": "time (s)"}},
     "y": {"field": "v", "type": "quantitative", "scale": {"domain": [0, 60], "nice": false}, "axis": {"values": [0,2,4,6,8,10,12,14,16,18,20,22,24,26,28,30,32,34,36,38,40,42,44,46,48,50,52,54,56,58,60], "labelExpr": "datum.value % 10 === 0 ? datum.label : ''", "tickSize": {"condition": {"test": "datum.value % 10 === 0", "value": -6}, "value": -3}, "gridOpacity": {"condition": {"test": "datum.value % 10 === 0", "value": 1}, "value": 0}, "title": "Pressure (Kpa)"}},
     "color": {"field": "s", "type": "nominal", "scale": {"domain": ["Experimental", "Numerical"], "range": ["#111111", "#e8141c"]}, "legend": null}
   }},
  {"width": 311, "height": 284, "data": {"name": "sf"},
   "encoding": {
     "x": {"field": "t", "type": "quantitative", "scale": {"domain": [0, 1], "nice": false}, "axis": {"values": [0,0.05,0.1,0.15,0.2,0.25,0.3,0.35,0.4,0.45,0.5,0.55,0.6,0.65,0.7,0.75,0.8,0.85,0.9,0.95,1], "labelExpr": "indexof([0,0.25,0.5,0.75,1], datum.value) >= 0 ? format(datum.value, '~g') : ''", "tickSize": {"condition": {"test": "indexof([0,0.25,0.5,0.75,1], datum.value) >= 0", "value": -6}, "value": -3}, "gridOpacity": {"condition": {"test": "indexof([0,0.25,0.5,0.75,1], datum.value) >= 0", "value": 1}, "value": 0}, "title": "time (s)"}},
     "y": {"field": "v", "type": "quantitative", "scale": {"domain": [0, 20], "nice": false}, "axis": {"values": [0,1,2,3,4,5,6,7,8,9,10,11,12,13,14,15,16,17,18,19,20], "labelExpr": "datum.value % 5 === 0 ? datum.label : ''", "tickSize": {"condition": {"test": "datum.value % 5 === 0", "value": -6}, "value": -3}, "gridOpacity": {"condition": {"test": "datum.value % 5 === 0", "value": 1}, "value": 0}, "title": "Flow rate (ml s⁻¹)"}}
   },
   "layer": [
     {"transform": [{"filter": "datum.s === 'Upper' || datum.s === 'Lower'"}], "mark": {"type": "line", "color": "#222", "strokeWidth": 1.5, "strokeDash": [6, 3]}, "encoding": {"detail": {"field": "s"}}},
     {"transform": [{"filter": "datum.s === 'Mean'"}], "mark": {"type": "line", "color": "#111", "strokeWidth": 2.4}},
     {"transform": [{"filter": "datum.s === 'Numerical'"}], "mark": {"type": "line", "color": "#e8141c", "strokeWidth": 1.6}}
   ]}
]}
],
"resolve": {"scale": {"color": "independent"}}
}
